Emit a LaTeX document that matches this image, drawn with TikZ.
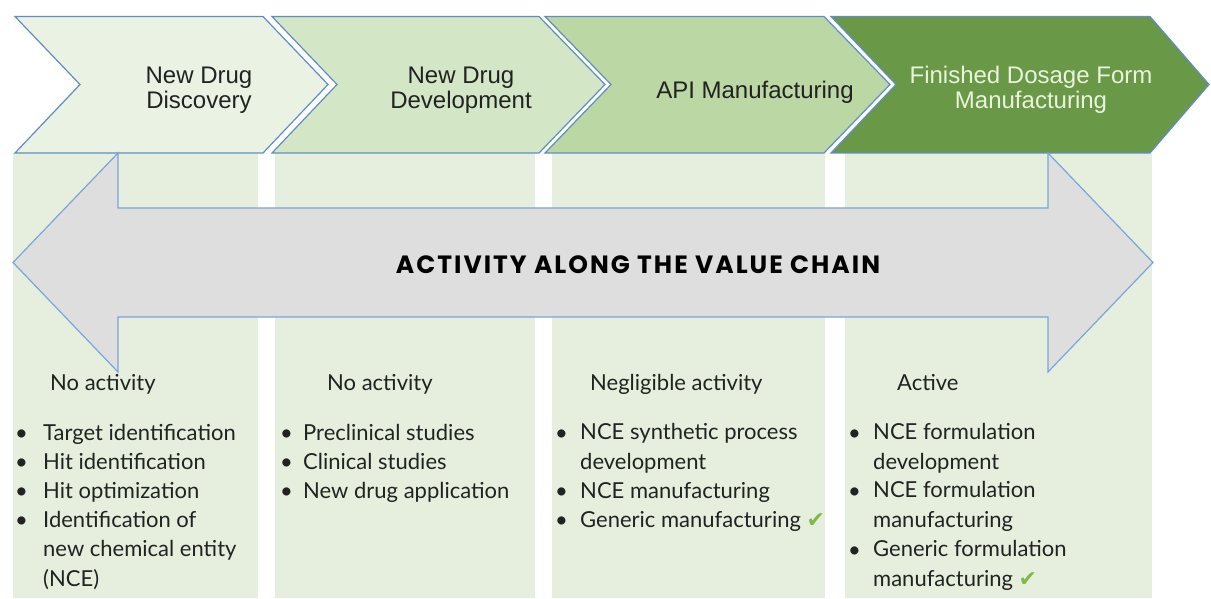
\documentclass[tikz,border=0pt]{standalone}
\usepackage{fontspec}
\setmainfont{Lato}
\newfontfamily\arialf{Liberation Sans}
\newfontfamily\checkf{DejaVu Sans}
\newfontfamily\titlef{Poppins}[LetterSpace=8]
\definecolor{colbg}{HTML}{E6EFDE}
\definecolor{chevA}{HTML}{EAF2E4}
\definecolor{chevB}{HTML}{D3E6C6}
\definecolor{chevC}{HTML}{BBD7A4}
\definecolor{chevD}{HTML}{699846}
\definecolor{chevline}{HTML}{5F8DC6}
\definecolor{arrowfill}{HTML}{DEDEDE}
\definecolor{arrowline}{HTML}{78A6DA}
\definecolor{txt}{HTML}{222222}
\definecolor{lighttxt}{HTML}{EAF3DD}
\definecolor{checkgreen}{HTML}{7DBA4C}
\newcommand{\chk}{{\checkf\color{checkgreen}\fontsize{22}{22}\selectfont ✔}}
\tikzset{
  colbox/.style={fill=colbg, draw=none},
  chevshape/.style={draw=chevline, line width=1.2pt, line join=miter},
  chevtext/.style={font=\arialf\fontsize{24}{25}\selectfont, align=center, inner sep=0pt, text=txt},
  body/.style={font=\fontsize{22}{29.5}\selectfont, inner sep=0pt, text=txt, align=left, anchor=base west},
  bigarrow/.style={fill=arrowfill, draw=arrowline, line width=1.2pt, line join=miter},
  title/.style={font=\titlef\bfseries\fontsize{25}{28}\selectfont, inner sep=0pt, text=black}
}
\begin{document}
\begin{tikzpicture}[x=1pt,y=-1pt]
\useasboundingbox (0,0) rectangle (1211,599);
\fill[white] (0,0) rectangle (1211,599);
% column backgrounds
\fill[colbox] (13,153) rectangle (258,598);
\fill[colbox] (275,153) rectangle (535,598);
\fill[colbox] (552,153) rectangle (825,598);
\fill[colbox] (845,153) rectangle (1152,598);
% chevrons
\filldraw[chevshape, fill=chevA] (15,16.5) -- (263,16.5) -- (328,84.5) -- (263,153) -- (15,153) -- (80,84.5) -- cycle;
\filldraw[chevshape, fill=chevB] (272,16.5) -- (539,16.5) -- (605,84.5) -- (539,153) -- (272,153) -- (337,84.5) -- cycle;
\filldraw[chevshape, fill=chevC] (545,16.5) -- (824,16.5) -- (890,84.5) -- (824,153) -- (545,153) -- (611,84.5) -- cycle;
\filldraw[chevshape, fill=chevD] (831,16.5) -- (1150,16.5) -- (1209,84.5) -- (1150,153) -- (831,153) -- (896,84.5) -- cycle;
\node[chevtext] (c1) at (199,90) {New Drug\\Discovery};
\node[chevtext] (c2) at (461,90) {New Drug\\Development};
\node[chevtext] (c3) at (755,92) {API Manufacturing};
\node[chevtext, text=lighttxt] (c4) at (1031,90) {Finished Dosage Form\\Manufacturing};
% double arrow
\filldraw[bigarrow] (13,262.5) -- (118,153) -- (118,208) -- (1048,208) -- (1048,153) -- (1153,262.5) -- (1048,372) -- (1048,317) -- (118,317) -- (118,372) -- cycle;
\node[title] (t) at (638,265) {ACTIVITY ALONG THE VALUE CHAIN};
% column 1
\node[body] (h1) at (50,390) {No activity};
\node[body] (b11) at (15,440) {•};
\node[body] (i11) at (43,440) {Target identification};
\node[body] (b12) at (15,469) {•};
\node[body] (i12) at (43,469) {Hit identification};
\node[body] (b13) at (15,498) {•};
\node[body] (i13) at (43,498) {Hit optimization};
\node[body] (b14) at (15,527) {•};
\node[body] (i14) at (43,586) {Identification of\\new chemical entity\\(NCE)};
% column 2
\node[body] (h2) at (327,390) {No activity};
\node[body] (b21) at (280,440) {•};
\node[body] (i21) at (303,440) {Preclinical studies};
\node[body] (b22) at (280,469) {•};
\node[body] (i22) at (303,469) {Clinical studies};
\node[body] (b23) at (280,498) {•};
\node[body] (i23) at (303,498) {New drug application};
% column 3
\node[body] (h3) at (590,390) {Negligible activity};
\node[body] (b31) at (555,440) {•};
\node[body] (i31) at (580,469) {NCE synthetic process\\development};
\node[body] (b32) at (555,498) {•};
\node[body] (i32) at (580,498) {NCE manufacturing};
\node[body] (b33) at (555,527) {•};
\node[body] (i33) at (580,527) {Generic manufacturing \chk};
% column 4
\node[body] (h4) at (897,390) {Active};
\node[body] (b41) at (848,440) {•};
\node[body] (i41) at (873,469) {NCE formulation\\development};
\node[body] (b42) at (848,498) {•};
\node[body] (i42) at (873,527) {NCE formulation\\manufacturing};
\node[body] (b43) at (848,557) {•};
\node[body] (i43) at (873,586) {Generic formulation\\manufacturing \chk};
\end{tikzpicture}
\end{document}
